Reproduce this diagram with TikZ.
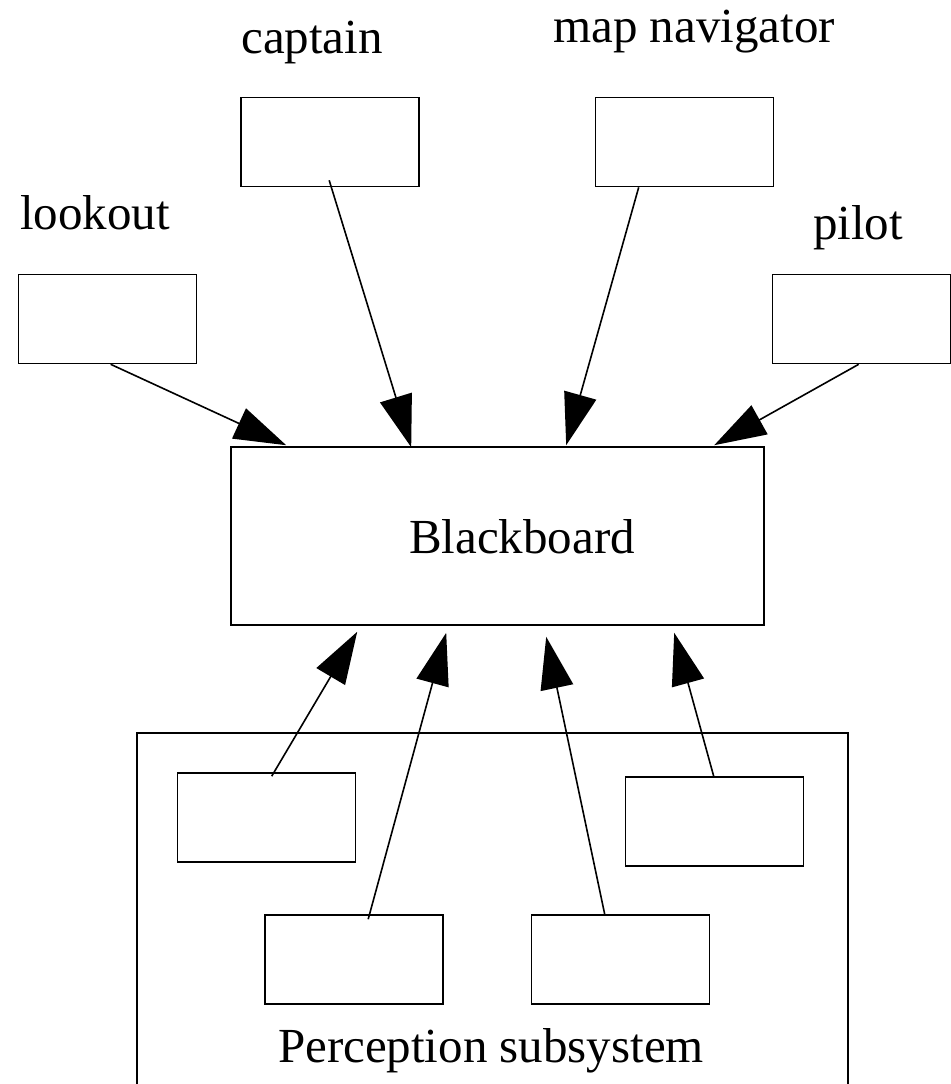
\documentclass[tikz,border=0pt]{standalone}
\usepackage{fontspec}
\setmainfont{Liberation Serif}
\usetikzlibrary{arrows.meta,calc}
\begin{document}
\begin{tikzpicture}[x=0.5pt,y=-0.5pt,
  agent/.style={draw,line width=0.8pt,rectangle,inner sep=0pt,minimum width=89pt,minimum height=44.5pt},
  lbl/.style={anchor=base,inner sep=0pt,font=\fontsize{24.5pt}{29pt}\selectfont},
  flow/.style={line width=0.8pt,-{Triangle[length=26pt,width=16.5pt]}}]
\useasboundingbox (0,0) rectangle (951,1084);
\clip (0,0) rectangle (951,1084);
% top agents
\node[agent] (lk)  at (107.5,319) {};
\node[agent] (cap) at (330,142) {};
\node[agent] (nav) at (684.5,142) {};
\node[agent] (pil) at (861.5,319) {};
\node[lbl] (lktxt)  at (95,229) {lookout};
\node[lbl] (captxt) at (312,53) {captain};
\node[lbl] (navtxt) at (694,42) {map navigator};
\node[lbl] (piltxt) at (858,239) {pilot};
% blackboard
\node[draw,line width=0.8pt,rectangle,inner sep=0pt,minimum width=266.5pt,minimum height=89pt] (bb) at (497.5,536) {};
\node[lbl] (bbtxt) at (522,553) {Blackboard};
% perception subsystem
\node[draw,line width=0.8pt,rectangle,inner sep=0pt,minimum width=355.5pt,minimum height=190pt] (per) at (492.5,923) {};
\node[lbl] (pertxt) at (491,1062) {Perception subsystem};
\node[agent] (pa) at (266.5,817.5) {};
\node[agent] (pb) at (354,959.5) {};
\node[agent] (pc) at (620.5,959.5) {};
\node[agent] (pd) at (714.5,821.5) {};
% connectors to blackboard (top)
\draw[flow] ($(lk.south west)+(93,0)$) -- ($(bb.north west)+(56,-1)$);
\draw[flow] ($(cap.south west)+(89,-7)$) -- ($(bb.north west)+(181,1)$);
\draw[flow] ($(nav.south west)+(44,0)$) -- ($(bb.north west)+(336,-1)$);
\draw[flow] ($(pil.south west)+(87,0)$) -- ($(bb.north west)+(484,-1)$);
% connectors to blackboard (bottom)
\draw[flow] ($(pa.north west)+(95,4)$) -- ($(bb.south west)+(127,6)$);
\draw[flow] ($(pb.north west)+(104,5)$) -- ($(bb.south west)+(216,7)$);
\draw[flow] ($(pc.north west)+(74,0)$) -- ($(bb.south west)+(316,11)$);
\draw[flow] ($(pd.north west)+(89,0)$) -- ($(bb.south west)+(444,7)$);
\end{tikzpicture}
\end{document}
